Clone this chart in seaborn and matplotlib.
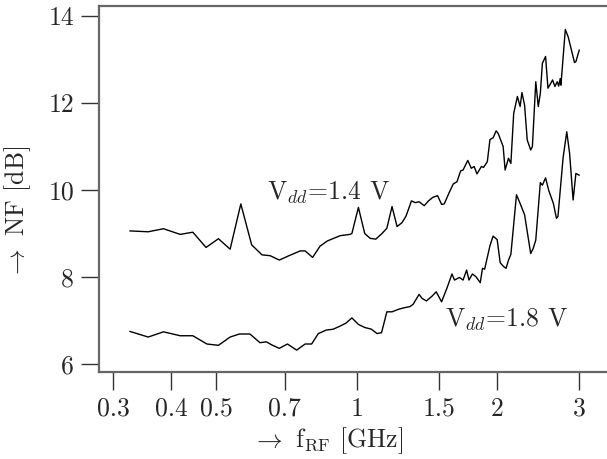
import numpy as np
import pandas as pd
import seaborn as sns
import matplotlib
matplotlib.use("Agg")
import matplotlib.pyplot as plt

# NF vs RF frequency
f_14 = [0.326, 0.357, 0.385, 0.418, 0.445, 0.475, 0.505, 0.535, 0.564, 0.595,
        0.626, 0.652, 0.682, 0.719, 0.756, 0.775, 0.804, 0.834, 0.865, 0.921,
        0.967, 0.976, 1.008, 1.04, 1.068, 1.098, 1.13, 1.16, 1.19, 1.22,
        1.25, 1.275, 1.31, 1.335, 1.36, 1.395, 1.425, 1.455, 1.49, 1.52,
        1.54, 1.575, 1.61, 1.64, 1.67, 1.69, 1.73, 1.76, 1.785, 1.81,
        1.85, 1.87, 1.905, 1.93, 1.96, 1.99, 2.01, 2.06, 2.08, 2.115,
        2.14, 2.17, 2.21, 2.24, 2.26, 2.29, 2.32, 2.36, 2.38, 2.42,
        2.45, 2.475, 2.50, 2.54, 2.57, 2.63, 2.66, 2.69, 2.71, 2.73,
        2.74, 2.80, 2.84, 2.93, 2.95, 3.0]
nf_14 = [9.06, 9.04, 9.11, 8.98, 9.03, 8.68, 8.88, 8.64, 9.68, 8.74,
         8.51, 8.49, 8.39, 8.50, 8.60, 8.60, 8.45, 8.71, 8.83, 8.95,
         8.98, 9.00, 9.60, 9.00, 8.89, 8.87, 8.99, 9.12, 9.62, 9.16,
         9.25, 9.40, 9.75, 9.71, 9.73, 9.64, 9.75, 9.83, 9.87, 9.67,
         9.68, 9.92, 10.14, 10.19, 10.44, 10.46, 10.68, 10.50, 10.54, 10.37,
         10.54, 10.52, 10.65, 11.16, 11.20, 11.36, 11.30, 11.00, 10.46, 10.73,
         10.61, 11.76, 12.15, 11.92, 12.24, 11.95, 11.15, 10.92, 11.00, 12.49,
         11.92, 12.22, 12.91, 13.07, 12.34, 12.53, 12.38, 12.49, 12.39, 12.56,
         12.41, 13.69, 13.52, 12.93, 12.95, 13.22]

f_18 = [0.326, 0.357, 0.385, 0.418, 0.445, 0.477, 0.505, 0.535, 0.56, 0.59,
        0.62, 0.64, 0.657, 0.682, 0.71, 0.743, 0.775, 0.80, 0.827, 0.86,
        0.89, 0.92, 0.948, 0.976, 1.008, 1.04, 1.075, 1.105, 1.13, 1.16,
        1.19, 1.23, 1.26, 1.30, 1.32, 1.36, 1.38, 1.41, 1.45, 1.48,
        1.52, 1.56, 1.60, 1.62, 1.66, 1.69, 1.72, 1.74, 1.77, 1.80,
        1.84, 1.86, 1.88, 1.93, 1.96, 2.0, 2.03, 2.06, 2.09, 2.115,
        2.14, 2.20, 2.24, 2.29, 2.36, 2.39, 2.42, 2.475, 2.50, 2.54,
        2.58, 2.64, 2.68, 2.70, 2.77, 2.82, 2.86, 2.91, 2.95, 3.0]
nf_18 = [6.75, 6.62, 6.74, 6.65, 6.65, 6.46, 6.43, 6.62, 6.69, 6.69,
         6.49, 6.51, 6.44, 6.36, 6.46, 6.32, 6.46, 6.46, 6.70, 6.78,
         6.80, 6.87, 6.94, 7.06, 6.91, 6.84, 6.80, 6.70, 6.72, 7.20,
         7.20, 7.26, 7.29, 7.32, 7.37, 7.60, 7.51, 7.45, 7.56, 7.66,
         7.43, 7.74, 8.07, 7.93, 7.99, 7.93, 8.16, 7.93, 8.07, 8.01,
         7.87, 8.20, 8.18, 8.72, 8.94, 8.86, 8.33, 8.25, 8.20, 8.39,
         8.52, 9.89, 9.69, 9.43, 8.54, 8.66, 8.85, 10.17, 10.11, 10.28,
         9.99, 9.69, 9.35, 9.39, 10.75, 11.34, 10.84, 9.77, 10.38, 10.34]

x_ticks = [0.3, 0.4, 0.5, 0.7, 1, 1.5, 2, 3]
x_ticklabels = ["0.3", "0.4", "0.5", "0.7", "1", "1.5", "2", "3"]
y_ticks = [6, 8, 10, 12, 14]

sns.set_style("white")
plt.rcParams["font.family"] = "serif"
plt.rcParams["font.serif"] = ["cmr10", "DejaVu Serif"]
plt.rcParams["mathtext.fontset"] = "cm"
plt.rcParams["axes.unicode_minus"] = False
plt.rcParams["font.size"] = 18.5

df14 = pd.DataFrame({"f": f_14, "nf": nf_14})
df18 = pd.DataFrame({"f": f_18, "nf": nf_18})

fig = plt.figure(figsize=(6.07, 4.59), dpi=100)
ax = fig.add_axes([0.1631, 0.1895, 0.8369, 0.7974])

sns.lineplot(data=df14, x="f", y="nf", color="black", lw=1.0, ax=ax,
             estimator=None, sort=False)
sns.lineplot(data=df18, x="f", y="nf", color="black", lw=1.0, ax=ax,
             estimator=None, sort=False)

ax.set_xscale("log")
ax.set_xlim(0.280, 3.44)
ax.set_ylim(5.816, 14.23)
ax.set_xticks(x_ticks)
ax.set_xticklabels(x_ticklabels)
ax.minorticks_off()
ax.set_yticks(y_ticks)
ax.set_yticklabels([str(v) for v in y_ticks])

for side in ["left", "top", "bottom"]:
    ax.spines[side].set_color("#666666")
    ax.spines[side].set_linewidth(1.6)
ax.spines["right"].set_visible(False)
ax.tick_params(axis="both", which="major", direction="out", length=13,
               width=1.0, color="#333333", pad=5, labelsize=18.5,
               bottom=True, left=True, top=False, right=False)

ax.set_xlabel(r"$\rightarrow$ f$_{\rm RF}$ [GHz]", fontsize=18.5)
ax.set_ylabel(r"$\rightarrow$ NF [dB]", fontsize=18.5)
ax.xaxis.set_label_coords(0.451, -0.145)
ax.yaxis.set_label_coords(-0.130, 0.437)

ax.text(0.642, 9.77, r"V$_{dd}$=1.4 V", ha="left", va="baseline", fontsize=18.5)
ax.text(1.545, 6.85, r"V$_{dd}$=1.8 V", ha="left", va="baseline", fontsize=18.5)

fig.savefig("out.png", dpi=100)
